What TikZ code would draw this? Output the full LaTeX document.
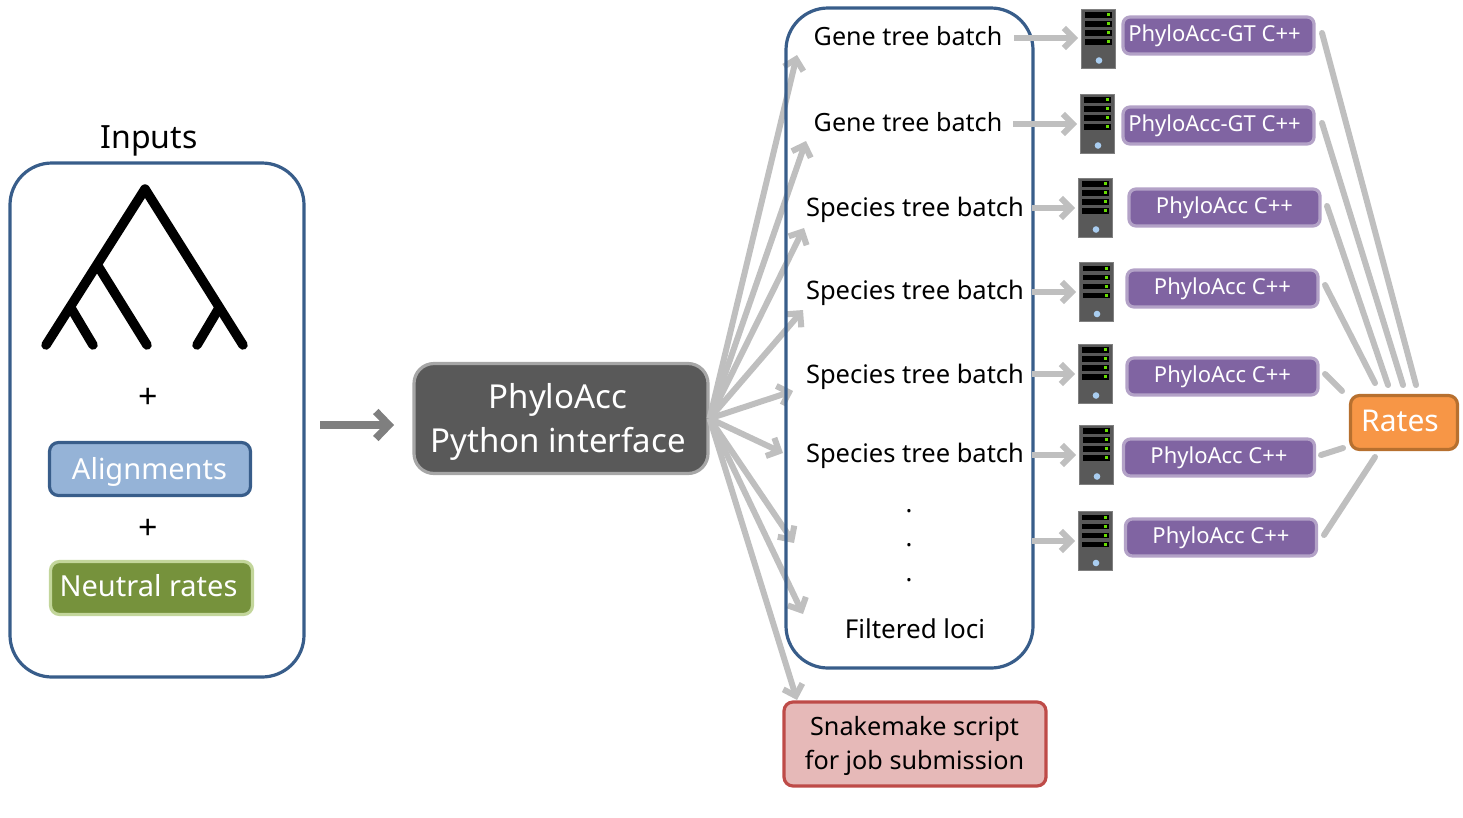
\documentclass[tikz,border=0pt]{standalone}
\usepackage{fontspec}
\setmainfont{Noto Sans}
\usetikzlibrary{arrows.meta}
\definecolor{frameblue}{HTML}{385D8A}
\definecolor{alignfill}{HTML}{95B3D7}
\definecolor{neutfill}{HTML}{76923C}
\definecolor{neutline}{HTML}{C3D69B}
\definecolor{darkfill}{HTML}{595959}
\definecolor{darkline}{HTML}{A6A6A6}
\definecolor{purpfill}{HTML}{8064A2}
\definecolor{purpline}{HTML}{B3A2C7}
\definecolor{ratefill}{HTML}{F79646}
\definecolor{rateline}{HTML}{B7702F}
\definecolor{snakefill}{HTML}{E6B9B8}
\definecolor{snakeline}{HTML}{BE4B48}
\definecolor{linkgrey}{HTML}{BFBFBF}
\definecolor{maingrey}{HTML}{7F7F7F}
\definecolor{ledgreen}{HTML}{66DD00}
\definecolor{leddot}{HTML}{A9CDF0}
\tikzset{
  x=1pt,y=-1pt,
  frame/.style={draw=frameblue,line width=3.2pt,rounded corners=42pt,inner sep=0pt},
  box/.style={rounded corners=9pt,inner sep=0pt,align=center,line width=3.2pt},
  jobbox/.style={box,draw=purpline,fill=purpfill,text=white,minimum width=191pt,minimum height=37pt,rounded corners=7pt,font=\fontsize{22}{25}\selectfont},
  batch/.style={inner sep=0pt,font=\fontsize{25.5}{30}\selectfont},
  genebatch/.style={inner sep=0pt,font=\fontsize{25.1}{30}\selectfont},
  plain/.style={inner sep=0pt,align=center},
  link/.style={draw=linkgrey,line width=6pt,line cap=round},
  larrow/.style={draw=linkgrey,line width=6pt,-{Straight Barb[length=10pt,width=20pt,line width=6pt]}},
  treeline/.style={line width=9.5pt,line cap=round,draw=black},
  server/.pic={
    \node[draw=gray,fill=darkfill,line width=1pt,minimum width=34pt,minimum height=59pt,inner sep=0pt,anchor=north west] (-box) at (0,0) {};
    \foreach \yy in {3.5,12.5,21.5,30.5}{
      \fill[black] (3.5,\yy) rectangle (31,\yy+5.5);
      \fill[ledgreen] (25.5,\yy+1.2) rectangle (28.5,\yy+4.3);
    }
    \fill[leddot] (18,52) circle (3.3pt);
  }
}
\begin{document}
\begin{tikzpicture}
\useasboundingbox (0,0) rectangle (1463,817);
% left panel
\node[plain,font=\fontsize{32}{38}\selectfont] (inputs) at (149,141) {Inputs};
\node[frame,minimum width=294pt,minimum height=514pt] (inbox) at (157,420) {};
\coordinate (root) at (145,189);
\coordinate (leftend) at (46,345);
\coordinate (rightend) at (243,345);
\coordinate (fork) at (98,266);
\coordinate (forkend) at (147,345);
\coordinate (lfork) at (71,308);
\coordinate (lforkend) at (93,345);
\coordinate (rfork) at (219,308);
\coordinate (rforkend) at (197,345);
\draw[treeline,line join=round] (leftend) -- (root) -- (rightend);
\draw[treeline] (fork) -- (forkend);
\draw[treeline] (lfork) -- (lforkend);
\draw[treeline] (rfork) -- (rforkend);
\node[plain,font=\fontsize{34}{38}\selectfont] (plusa) at (148,398) {+};
\node[box,draw=frameblue,fill=alignfill,minimum width=201pt,minimum height=53pt] (align) at (150,469) {};
\node[plain,text=white,font=\fontsize{29}{34}\selectfont] (aligntext) at (149.5,472) {Alignments};
\node[plain,font=\fontsize{34}{38}\selectfont] (plusb) at (148,529) {+};
\node[box,draw=neutline,fill=neutfill,minimum width=202pt,minimum height=53pt] (neutral) at (151.5,588) {};
\node[plain,text=white,font=\fontsize{29}{34}\selectfont] (neutraltext) at (148.5,586) {Neutral rates};
% main node and arrows
\coordinate (mainstart) at (320,425);
\coordinate (mainend) at (394,425);
\node[box,draw=darkline,fill=darkfill,minimum width=294pt,minimum height=110pt,rounded corners=20pt] (phylo) at (561,418.5) {};
\node[plain,text=white,font=\fontsize{33}{44}\selectfont] (phylotext) at (558,421.5) {PhyloAcc\\Python interface};
\draw[draw=maingrey,line width=7.5pt,-{Straight Barb[length=13pt,width=27pt,line width=7.5pt]}] (mainstart) -- (mainend);
% fan arrows
\coordinate (f1) at (797,55);
\coordinate (f2) at (806,141);
\coordinate (f3) at (804,228);
\coordinate (f4) at (803,310);
\coordinate (f5) at (793,391);
\coordinate (f6) at (783,453);
\coordinate (f7) at (794,543);
\coordinate (f8) at (803,614);
\coordinate (f9) at (797,700);
\foreach \n in {1,...,9}{\draw[larrow] (phylo.east) -- (f\n);}
% batch frame
\node[frame,minimum width=247pt,minimum height=660pt] (batches) at (909.5,338) {};
\node[genebatch] (b1) at (908,36) {Gene tree batch};
\node[genebatch] (b2) at (908,122) {Gene tree batch};
\node[batch] (b3) at (915,209.5) {Species tree batch};
\node[batch] (b4) at (915,292.5) {Species tree batch};
\node[batch] (b5) at (915,376.5) {Species tree batch};
\node[batch] (b6) at (915,455.5) {Species tree batch};
\node[batch] (d1) at (909,511) {.};
\node[batch] (d2) at (909,545) {.};
\node[batch] (d3) at (909,580) {.};
\node[plain,font=\fontsize{26}{30}\selectfont] (filt) at (915,629) {Filtered loci};
\node[box,draw=snakeline,fill=snakefill,minimum width=262pt,minimum height=84pt] (snake) at (915,744) {};
\node[plain,font=\fontsize{25.2}{34}\selectfont] (snaketext) at (914.5,746) {Snakemake script\\for job submission};
% servers
\pic (s1) at (1081,8.5) {server};
\pic (s2) at (1080,93.5) {server};
\pic (s3) at (1078,177.5) {server};
\pic (s4) at (1079,262) {server};
\pic (s5) at (1078,343.5) {server};
\pic (s6) at (1079,424.5) {server};
\pic (s7) at (1078,511) {server};
\coordinate (a1) at (1014,38);
\coordinate (a2) at (1013,124);
\coordinate (a3) at (1032,208);
\coordinate (a4) at (1032,292);
\coordinate (a5) at (1032,374);
\coordinate (a6) at (1032,455);
\coordinate (a7) at (1032,541);
\foreach \n in {1,...,7}{\draw[larrow,shorten >=3pt] (a\n) -- (a\n -| s\n-box.west);}
% jobs
\node[jobbox] (p1) at (1218.5,35.5) {\hspace*{-8pt}PhyloAcc-GT C++};
\node[jobbox] (p2) at (1218.5,125.5) {\hspace*{-8pt}PhyloAcc-GT C++};
\node[jobbox] (p3) at (1224.5,207.5) {PhyloAcc C++};
\node[jobbox] (p4) at (1222.5,288.5) {PhyloAcc C++};
\node[jobbox] (p5) at (1222.5,376.5) {PhyloAcc C++};
\node[jobbox] (p6) at (1219,457.5) {PhyloAcc C++};
\node[jobbox] (p7) at (1221,537.5) {PhyloAcc C++};
\node[box,draw=rateline,fill=ratefill,minimum width=107pt,minimum height=54pt] (rates) at (1404,422.5) {};
\node[plain,text=white,font=\fontsize{30}{36}\selectfont] (ratestext) at (1400,420.5) {Rates};
% links to rates
\coordinate (r1) at (1322,33);  \coordinate (q1) at (1416,385);
\coordinate (r2) at (1322,123); \coordinate (q2) at (1403,385);
\coordinate (r3) at (1327,206); \coordinate (q3) at (1388,385);
\coordinate (r4) at (1325,285); \coordinate (q4) at (1375,383);
\coordinate (r5) at (1325,374); \coordinate (q5) at (1342,391);
\coordinate (r6) at (1321,455); \coordinate (q6) at (1343,448);
\coordinate (r7) at (1324,535); \coordinate (q7) at (1375,457);
\foreach \n in {1,...,7}{\draw[link] (r\n) -- (q\n);}
\end{tikzpicture}
\end{document}
